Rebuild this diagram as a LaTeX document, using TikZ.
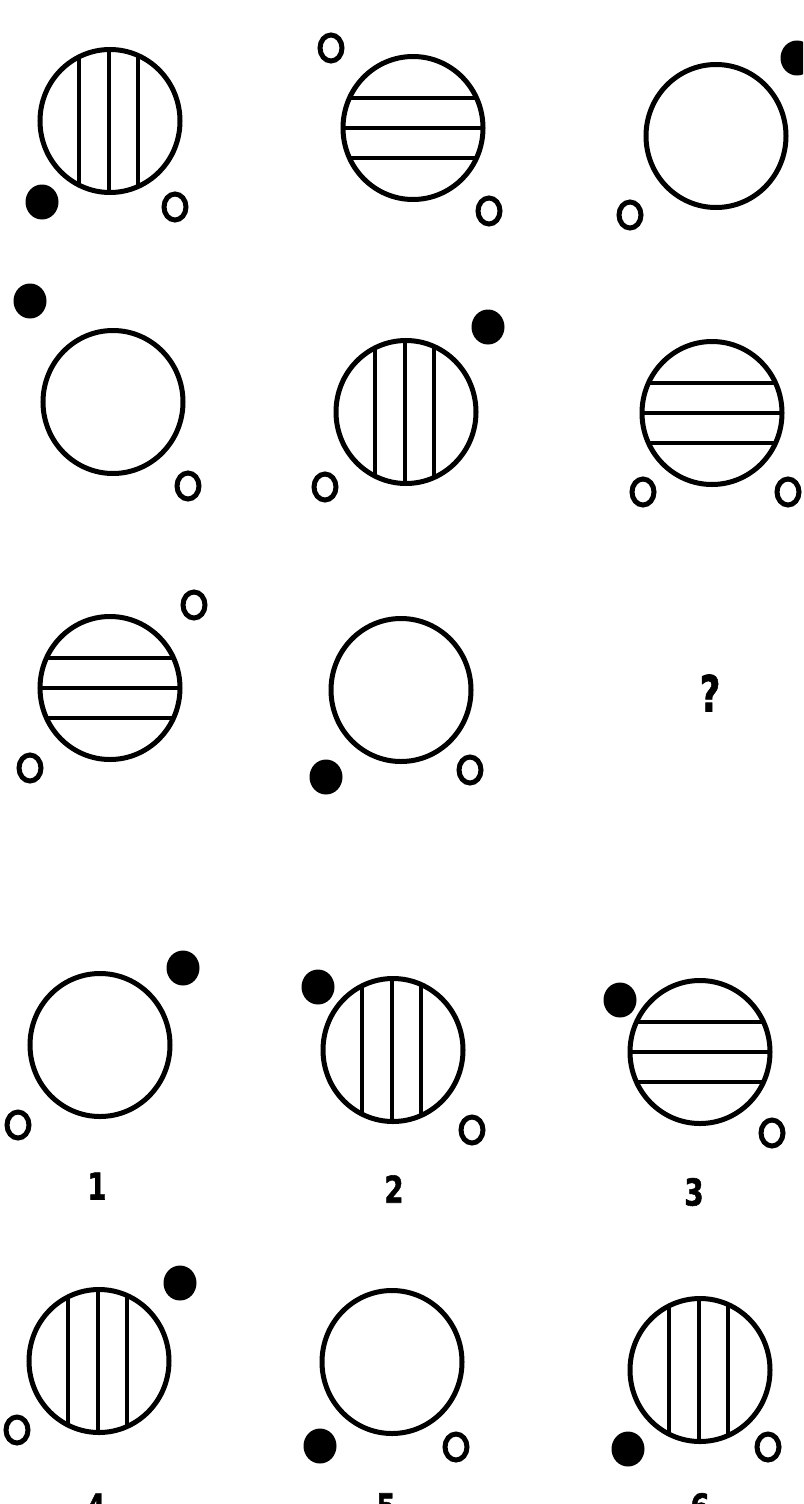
\documentclass[tikz,border=0pt]{standalone}
\usepackage{fontspec}
\newfontfamily\lblfont[BoldFeatures={FakeBold=1.5}]{DejaVu Sans}
\usetikzlibrary{shapes.geometric}
\tikzset{
  bigc/.style={ellipse, draw, line width=5pt, inner sep=0pt, minimum width=140pt, minimum height=143pt},
  vhatch/.style={path picture={\foreach \d in {-31,-1,28}{\draw[line width=4pt] ([xshift=\d pt]path picture bounding box.north) -- ([xshift=\d pt]path picture bounding box.south);}}},
  hhatch/.style={path picture={\foreach \d in {-30,0,30}{\draw[line width=4pt] ([yshift=\d pt]path picture bounding box.west) -- ([yshift=\d pt]path picture bounding box.east);}}},
  blackdot/.style={ellipse, fill=black, inner sep=0pt, minimum width=33pt, minimum height=35pt},
  ring/.style={ellipse, draw, line width=5pt, inner sep=0pt, minimum width=22pt, minimum height=26pt},
  lbl/.style={font=\lblfont\bfseries\fontsize{37}{40}\selectfont, inner sep=0pt, xscale=0.75},
  qmark/.style={font=\lblfont\bfseries\fontsize{50}{54}\selectfont, inner sep=0pt, xscale=0.72},
}
\begin{document}
\begin{tikzpicture}[x=1pt,y=-1pt]
\useasboundingbox (0,0) rectangle (803,1504);
\clip (0,0) rectangle (803,1504);
\fill[white] (0,0) rectangle (803,1504);
% row 1
\node[bigc, vhatch] (f1) at (110,121) {};
\node[blackdot] (f1b) at (42,202) {};
\node[ring] (f1r) at (175,207) {};
\node[bigc, hhatch] (f2) at (413,128) {};
\node[ring] (f2r1) at (331,48) {};
\node[ring] (f2r2) at (489,211) {};
\node[bigc] (f3) at (716,136) {};
\node[blackdot] (f3b) at (797,58) {};
\node[ring] (f3r) at (630,215) {};
% row 2
\node[bigc] (f4) at (113,402) {};
\node[blackdot] (f4b) at (30,301) {};
\node[ring] (f4r) at (188,486) {};
\node[bigc, vhatch] (f5) at (406,412) {};
\node[blackdot] (f5b) at (488,327) {};
\node[ring] (f5r) at (325,487) {};
\node[bigc, hhatch] (f6) at (712,413) {};
\node[ring] (f6r1) at (643,492) {};
\node[ring] (f6r2) at (788,492) {};
% row 3
\node[bigc, hhatch] (f7) at (110,688) {};
\node[ring] (f7r1) at (194,605) {};
\node[ring] (f7r2) at (30,768) {};
\node[bigc] (f8) at (401,690) {};
\node[blackdot] (f8b) at (326,777) {};
\node[ring] (f8r) at (470,770) {};
\node[qmark] (q) at (710,693) {?};
% answers row 1
\node[bigc] (a1) at (100,1045) {};
\node[blackdot] (a1b) at (183,968) {};
\node[ring] (a1r) at (18,1125) {};
\node[lbl] (l1) at (97,1186) {1};
\node[bigc, vhatch] (a2) at (393,1050) {};
\node[blackdot] (a2b) at (318,987) {};
\node[ring] (a2r) at (472,1130) {};
\node[lbl] (l2) at (394,1189) {2};
\node[bigc, hhatch] (a3) at (700,1052) {};
\node[blackdot] (a3b) at (620,1000) {};
\node[ring] (a3r) at (772,1133) {};
\node[lbl] (l3) at (694,1192) {3};
% answers row 2
\node[bigc, vhatch] (a4) at (99,1361) {};
\node[blackdot] (a4b) at (180,1283) {};
\node[ring] (a4r) at (17,1430) {};
\node[lbl] (l4) at (96,1507) {4};
\node[bigc] (a5) at (392,1362) {};
\node[blackdot] (a5b) at (320,1446) {};
\node[ring] (a5r) at (456,1447) {};
\node[lbl] (l5) at (386,1507) {5};
\node[bigc, vhatch] (a6) at (700,1370) {};
\node[blackdot] (a6b) at (628,1449) {};
\node[ring] (a6r) at (768,1447) {};
\node[lbl] (l6) at (700,1507) {6};
\end{tikzpicture}
\end{document}
